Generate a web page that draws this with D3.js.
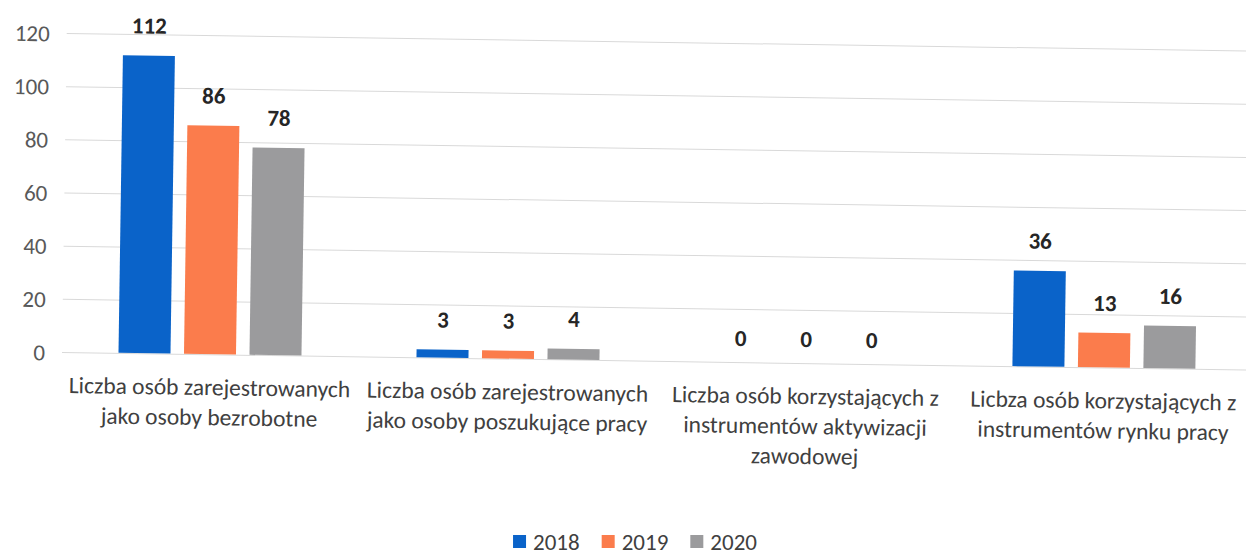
<!DOCTYPE html>
<html>
<head>
<meta charset="utf-8">
<script src="https://cdn.jsdelivr.net/npm/d3@7"></script>
<style>
  html, body { margin: 0; padding: 0; background: #ffffff; }
  svg { display: block; }
  text { font-family: Carlito, Calibri, Lato, "Open Sans", sans-serif; }
</style>
</head>
<body>
<svg id="chart" width="1246" height="555"></svg>
<script>
// ---- data ----
const categories = [
  ["Liczba osób zarejestrowanych", "jako osoby bezrobotne"],
  ["Liczba osób zarejestrowanych", "jako osoby poszukujące pracy"],
  ["Liczba osób korzystających z", "instrumentów aktywizacji", "zawodowej"],
  ["Licbza osób korzystających z", "instrumentów rynku pracy"]
];
const seriesNames = ["2018", "2019", "2020"];
const values2018 = [112, 3, 0, 36];
const values2019 = [86, 3, 0, 13];
const values2020 = [78, 4, 0, 16];
const yTicks = [0, 20, 40, 60, 80, 100, 120];
const colors = ["#0a63c9", "#fb7c4c", "#9b9b9d"];

const series = [values2018, values2019, values2020];

// ---- layout ----
const svg = d3.select("#chart");
const left = 61, right = 1253, y0px = 352, yTopPx = 33;

const x = d3.scaleBand()
  .domain(d3.range(categories.length))
  .range([left, right])
  .paddingInner(0)
  .paddingOuter(0);

const barW = 52, barStep = 65.5;

const y = d3.scaleLinear().domain([0, 120]).range([y0px, yTopPx]);

// slight tilt of the scanned page
const g = svg.append("g").attr("transform", "rotate(0.85, 62, 352)");

// gridlines + tick labels
const yAxis = d3.axisLeft(y).tickValues(yTicks).tickSize(-(right - 62)).tickPadding(17);
const ax = g.append("g").attr("transform", "translate(62,0)").call(yAxis);
ax.select(".domain").remove();
ax.selectAll(".tick line").attr("stroke", "#d9d9d9").attr("stroke-width", 1);
ax.selectAll(".tick text")
  .attr("fill", "#595959")
  .style("font-size", "23px")
  .attr("dy", "0.35em");

// bars
series.forEach((vals, si) => {
  g.selectAll(".bar" + si)
    .data(vals)
    .enter().append("rect")
    .attr("x", (d, i) => x(i) + x.bandwidth() / 2 + (si - 1) * barStep - barW / 2)
    .attr("y", d => y(d))
    .attr("width", barW)
    .attr("height", d => y(0) - y(d))
    .attr("fill", colors[si]);

  g.selectAll(".lab" + si)
    .data(vals)
    .enter().append("text")
    .attr("x", (d, i) => x(i) + x.bandwidth() / 2 + (si - 1) * barStep)
    .attr("y", d => y(d) - (d === 0 ? 16 : 22))
    .attr("text-anchor", "middle")
    .attr("fill", "#262626")
    .style("font-size", "23px")
    .style("font-weight", "bold")
    .text(d => d);
});

// category labels (one text per line)
categories.forEach((lines, i) => {
  lines.forEach((ln, li) => {
    g.append("text")
      .attr("text-anchor", "middle")
      .attr("fill", "#404040")
      .style("font-size", "23.5px")
      .attr("x", x(i) + x.bandwidth() / 2)
      .attr("y", 393 + li * 30)
      .text(ln);
  });
});

// legend
const leg = svg.append("g");
let cx = 0;
seriesNames.forEach((name, i) => {
  const it = leg.append("g");
  it.append("rect").attr("x", 0).attr("y", -7).attr("width", 13).attr("height", 13).attr("fill", colors[i]);
  const tx = it.append("text").attr("x", 20).attr("y", 0).attr("dy", "0.33em")
    .attr("fill", "#404040").style("font-size", "23px").text(name);
  const w = 20 + tx.node().getComputedTextLength();
  it.attr("transform", `translate(${cx},0)`);
  cx += w + 22;
});
const legW = cx - 22;
leg.attr("transform", `translate(${635 - legW / 2},542)`);
</script>
</body>
</html>
